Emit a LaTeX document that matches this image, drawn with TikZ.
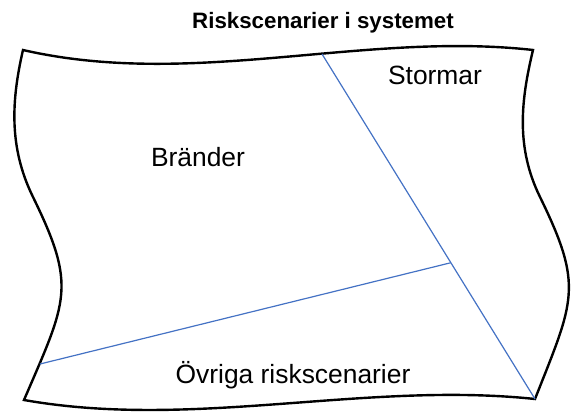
\documentclass[tikz,border=0pt]{standalone}
\usepackage{fontspec}
\setmainfont{Liberation Sans}
\usetikzlibrary{calc}
\definecolor{blueline}{HTML}{4472C4}

\begin{document}
\begin{tikzpicture}[
		x=1pt, y=-1pt,
		frame/.style	={ draw=black, line width=2.4pt, line join=miter },
		border/.style	={ draw=blueline, line width=1.2pt },
		region/.style	={ anchor=base, inner sep=0pt,
			font=\fontsize{26.4}{30}\selectfont
		},
		heading/.style	={ anchor=base, inner sep=0pt,
			font=\fontsize{22.3}{26}\selectfont\bfseries
		},
	]
	\useasboundingbox (0,0) rectangle (572,412);

	% declare corners of the sheet
	\coordinate (tl) at (23,50);
	\coordinate (tr) at (533,50);
	\coordinate (br) at (535,399);
	\coordinate (bl) at (24,400);

	% draw wavy sheet
	\draw [frame] (tl) .. controls (193,89) and (363,31) .. (tr)
			.. controls (521,100) and (515.5,147) .. (540,197)
			.. controls (584,287) and (574,300) .. (br)
			.. controls (364,381) and (194,430) .. (bl)
			.. controls (67,300) and (77,287) .. (33,197)
			.. controls (8.5,147) and (11.5,100) .. (tl) -- cycle;

	% draw borders between regions
	\coordinate (top) at (322,54);
	\coordinate (left) at (40,364);
	\coordinate (split) at ($(top)!0.605!(br)$);
	\draw [border] (top) -- (br);
	\draw [border] (left) -- (split);

	% draw labels
	\node (title) [heading] at (323,29) {Riskscenarier i systemet};
	\node (fires) [region] at (198,166.7) {Bränder};
	\node (storms) [region] at (435,84) {Stormar};
	\node (others) [region] at (293,383) {Övriga riskscenarier};

\end{tikzpicture}
\end{document}
